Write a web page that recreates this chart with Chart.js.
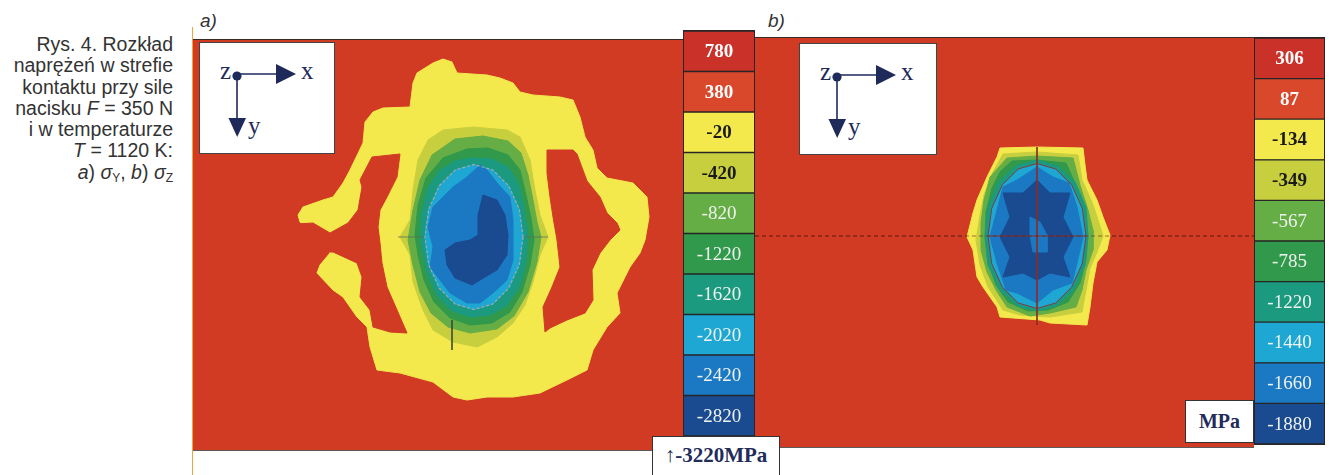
<!DOCTYPE html>
<html><head><meta charset="utf-8">
<script src="https://cdn.jsdelivr.net/npm/chart.js@4.4.1/dist/chart.umd.min.js"></script>
<style>
html,body{margin:0;padding:0;background:#fff;}
#page{position:relative;width:1329px;height:475px;overflow:hidden;font-family:"Liberation Sans",Arial,sans-serif;}
.abs{position:absolute;}
#caption{left:0;top:34px;width:173px;text-align:right;font-size:19.5px;line-height:21.3px;color:#333;white-space:nowrap;}
#caption sub{font-size:12px;vertical-align:-3px;line-height:0;}
.plabel{font-style:italic;font-size:19px;line-height:19px;color:#333;}
#orange{left:192px;top:27px;width:1px;height:448px;background:#f2a33a;}
.panel{border-top:1px solid #3a2a26;border-bottom:1px solid #5a5a5a;background:#d13b24;}
.cbar{border:1px solid #262626;box-sizing:border-box;background:#262626;}
.axbox{background:#fff;border:1.5px solid #444;box-sizing:border-box;}
.unit{background:#fff;border:1.5px solid #333;box-sizing:border-box;font-family:"Liberation Serif","Times New Roman",serif;font-weight:bold;color:#232b5a;text-align:center;}
canvas{display:block;}
</style></head>
<body>
<div id="page">
  <div id="caption" class="abs">Rys. 4. Rozkład<br>naprężeń w strefie<br>kontaktu przy sile<br>nacisku <i>F</i> = 350 N<br>i w temperaturze<br><i>T</i> = 1120 K:<br><i>a</i>) <i>σ</i><sub>Y</sub>, <i>b</i>) <i>σ</i><sub>Z</sub></div>
  <div id="orange" class="abs"></div>
  <div class="abs plabel" style="left:200px;top:11px;">a)</div>
  <div class="abs plabel" style="left:768px;top:11px;">b)</div>

  <div class="abs panel" style="left:193px;top:39px;width:490px;height:410px;"><canvas id="panelA" width="490" height="410"></canvas></div>
  <div class="abs cbar" style="left:683px;top:30px;width:72px;height:407px;"><canvas id="barA" width="70" height="405"></canvas></div>
  <div class="abs panel" style="left:755px;top:37px;width:499px;height:409px;"><canvas id="panelB" width="499" height="409"></canvas></div>
  <div class="abs cbar" style="left:1254px;top:37px;width:71px;height:408px;"><canvas id="barB" width="69" height="406"></canvas></div>

  <div class="abs axbox" style="left:199px;top:42px;width:136px;height:112px;">
    <svg width="134" height="110" style="position:absolute;left:0;top:0">
      <line x1="37" y1="31" x2="80" y2="31" stroke="#1d2a5a" stroke-width="1.6"/>
      <polygon points="76,21 96,31 76,41" fill="#1d2a5a"/>
      <line x1="37" y1="33" x2="37" y2="80" stroke="#1d2a5a" stroke-width="1.6"/>
      <polygon points="28.5,75 46,75 37.2,94" fill="#1d2a5a"/>
      <circle cx="37" cy="33" r="4.6" fill="#1d2a5a"/>
      <text x="20" y="36" font-family="Liberation Serif" font-size="25" fill="#1d2a5a">z</text>
      <text x="101" y="36" font-family="Liberation Serif" font-size="25" fill="#1d2a5a">x</text>
      <text x="48" y="91" font-family="Liberation Serif" font-size="25" fill="#1d2a5a">y</text>
    </svg>
  </div>
  <div class="abs axbox" style="left:799px;top:43px;width:138px;height:112px;">
    <svg width="136" height="110" style="position:absolute;left:0;top:0">
      <line x1="37" y1="31" x2="80" y2="31" stroke="#1d2a5a" stroke-width="1.6"/>
      <polygon points="76,21 96,31 76,41" fill="#1d2a5a"/>
      <line x1="37" y1="33" x2="37" y2="80" stroke="#1d2a5a" stroke-width="1.6"/>
      <polygon points="28.5,75 46,75 37.2,94" fill="#1d2a5a"/>
      <circle cx="37" cy="33" r="4.6" fill="#1d2a5a"/>
      <text x="20" y="36" font-family="Liberation Serif" font-size="25" fill="#1d2a5a">z</text>
      <text x="101" y="36" font-family="Liberation Serif" font-size="25" fill="#1d2a5a">x</text>
      <text x="48" y="91" font-family="Liberation Serif" font-size="25" fill="#1d2a5a">y</text>
    </svg>
  </div>
  <div class="abs unit" style="left:652px;top:436px;width:128px;height:45px;font-size:21px;line-height:36px;">↑-3220MPa</div>
  <div class="abs unit" style="left:1185px;top:400px;width:69px;height:43px;font-size:20px;line-height:40px;">MPa</div>
</div>
<script>
// ---------- colour-bar levels (MPa) ----------
const levelsA = [780, 380, -20, -420, -820, -1220, -1620, -2020, -2420, -2820];
const levelsB = [306, 87, -134, -349, -567, -785, -1220, -1440, -1660, -1880];
const levelColors = ['#c93129', '#d9482b', '#f3e84c', '#c8cf3f', '#65ad45', '#30994b', '#1b9a80', '#1da7d2', '#1b79c4', '#1a4a90'];
const levelTextColors = ['#ffffff', '#ffffff', '#1a1a1a', '#1a1a1a', '#eef2ee', '#eef2ee', '#eef2ee', '#eef2ee', '#eef2ee', '#eef2ee'];
const levelTextWeights = ['bold', 'bold', 'bold', 'bold', 'normal', 'normal', 'normal', 'normal', 'normal', 'normal'];

// ---------- contour outlines, panel a (sigma_Y), local units, y downwards ----------
const yellowA = [[-3.1,-17.8],[-2.2,-17.5],[-1.7,-16.4],[1.3,-16.2],[2.6,-15.9],[3.9,-15.4],[4.6,-14.5],[5.9,-14.2],[8.6,-14.0],[9.9,-13.7],[10.6,-12.0],[11.1,-10.0],[11.9,-8.7],[12.3,-6.9],[13.3,-5.9],[15.9,-5.4],[17.3,-4.0],[17.5,-2.0],[17.1,0.3],[16.6,1.6],[15.6,3.0],[14.3,5.6],[14.6,7.6],[13.3,9.0],[11.9,11.3],[11.3,13.3],[9.3,14.3],[6.6,15.6],[3.9,16.0],[1.3,16.0],[-0.7,16.3],[-2.1,16.0],[-4.1,14.5],[-7.4,13.6],[-9.7,13.3],[-10.4,11.0],[-10.7,9.0],[-11.7,8.0],[-13.1,6.0],[-14.1,5.3],[-15.7,3.6],[-15.4,2.8],[-14.4,1.6],[-15.4,0.3],[-17.4,-1.5],[-17.6,-2.2],[-17.1,-3.0],[-15.1,-3.7],[-14.1,-4.0],[-13.1,-5.4],[-12.4,-6.7],[-11.1,-9.4],[-10.9,-11.5],[-10.1,-12.5],[-9.1,-12.9],[-6.4,-13.0],[-6.1,-15.4],[-5.7,-16.4],[-4.1,-17.4]];
const holeLeftA = [[-19.4,-1.2],[-16.1,-1.4],[-14.4,-0.4],[-12.6,-1.4],[-11.6,-2.7],[-11.2,-5.0],[-11.4,-5.7],[-10.2,-8.0],[-7.4,-8.3],[-7.7,-6.0],[-8.7,-4.0],[-9.4,-2.7],[-9.6,-1.0],[-9.4,0.6],[-9.2,2.6],[-8.7,5.0],[-7.7,7.3],[-6.7,9.6],[-8.4,9.5],[-10.1,9.0],[-10.4,7.3],[-11.4,6.0],[-11.2,4.0],[-11.7,2.6],[-14.1,1.5],[-14.7,1.5],[-19.4,1.5]];
const holeRightA = [[7.3,-8.7],[9.9,-8.7],[10.3,-8.3],[11.3,-5.6],[12.6,-4.0],[13.3,-2.4],[14.3,-1.4],[14.6,-0.7],[13.6,0.3],[12.6,1.6],[11.8,3.3],[11.9,6.3],[11.1,7.6],[9.3,8.3],[7.6,9.1],[7.1,9.5],[6.9,7.0],[7.8,5.0],[8.6,3.0],[8.3,0.3],[7.9,-2.0],[7.6,-4.0],[7.3,-6.4]];
const bandA420 = [[-3.1,-10.7],[-0.1,-11.0],[3.3,-10.7],[4.6,-10.0],[5.6,-7.7],[6.1,-4.7],[6.6,-2.2],[7.4,0.0],[6.6,1.8],[5.9,4.5],[5.1,6.8],[3.9,8.6],[2.3,10.0],[0.3,11.0],[-2.1,10.5],[-4.1,9.3],[-5.1,7.3],[-6.1,4.5],[-6.4,1.8],[-7.4,0.0],[-6.4,-1.7],[-6.1,-4.7],[-5.6,-7.7],[-4.6,-9.7]];
const bandA820 = [[-1.9,-9.8],[0.9,-10.1],[3.4,-9.6],[4.7,-8.4],[5.4,-6.2],[5.9,-3.7],[6.3,-1.5],[6.7,0.0],[6.3,2.5],[5.4,5.5],[4.0,7.9],[2.3,9.2],[-0.4,9.6],[-2.6,9.0],[-4.3,7.6],[-5.4,5.5],[-6.1,2.8],[-6.6,0.3],[-6.1,-2.7],[-5.4,-5.7],[-4.2,-8.2]];
const bandA1220 = [[-0.7,-8.8],[1.4,-8.9],[3.4,-8.2],[4.6,-6.7],[5.2,-4.2],[5.7,-1.9],[6.0,0.3],[5.6,2.8],[4.8,5.5],[3.6,7.5],[1.8,8.6],[-0.4,8.8],[-2.4,8.1],[-4.0,6.5],[-5.0,4.3],[-5.6,1.8],[-5.9,-0.2],[-5.6,-3.2],[-4.8,-5.9],[-3.1,-7.9]];
const bandA1620 = [[-0.2,-7.9],[1.8,-7.8],[3.4,-7.0],[4.4,-5.4],[5.0,-2.9],[5.4,-0.2],[5.2,2.5],[4.5,5.1],[3.2,6.9],[1.6,7.8],[-0.4,8.0],[-2.2,7.4],[-3.7,5.9],[-4.7,3.5],[-5.3,0.8],[-5.3,-2.2],[-4.6,-4.9],[-3.4,-6.7],[-1.9,-7.6]];
const contactEllipse = [[4.9,0],[4.53,2.77],[3.46,5.13],[1.88,6.7],[0,7.25],[-1.88,6.7],[-3.46,5.13],[-4.53,2.77],[-4.9,0],[-4.53,-2.77],[-3.46,-5.13],[-1.88,-6.7],[0,-7.25],[1.88,-6.7],[3.46,-5.13],[4.53,-2.77]];
const blueA2420 = [[0.6,-7.2],[-0.7,-6.0],[-2.1,-5.0],[-3.1,-4.0],[-4.1,-3.0],[-4.6,-1.0],[-4.1,1.0],[-4.4,3.0],[-3.4,4.3],[-2.4,5.6],[-0.7,6.6],[0.6,6.6],[1.9,5.6],[3.3,4.3],[3.9,2.3],[3.9,0.3],[3.9,-1.7],[3.6,-4.0],[2.3,-5.4],[1.3,-6.7]];
const coreA2820 = [[0.9,-4.2],[2.3,-3.7],[3.1,-2.2],[3.4,-0.2],[3.3,1.8],[2.3,3.3],[0.6,4.3],[-0.2,4.8],[-1.9,4.1],[-2.7,2.8],[-2.9,1.3],[-1.9,0.6],[-0.4,0.3],[0.4,-0.2],[0.4,-2.2]];
const crossLineA = [[-7.6,0],[7.4,0]];
const tickLineA = [[-2.2,8.3],[-2.2,11.3]];

// ---------- contour outlines, panel b (sigma_Z) ----------
const yellowB = [[-3.7,-8.8],[0.0,-8.9],[4.6,-8.8],[4.8,-7.1],[5.0,-5.6],[6.0,-3.6],[6.6,-1.9],[7.3,-0.1],[7.0,1.4],[6.0,2.6],[5.6,4.7],[5.3,7.1],[5.0,8.9],[1.3,8.7],[0.3,8.4],[-3.7,8.1],[-4.0,7.1],[-5.4,5.1],[-6.0,4.1],[-6.4,1.4],[-7.0,0.1],[-6.4,-2.3],[-6.0,-3.6],[-5.0,-5.9],[-4.0,-7.9]];
const bandB349 = [[-3.4,-8.2],[0.0,-8.4],[4.1,-8.1],[4.5,-5.6],[5.5,-3.4],[6.1,-1.6],[6.6,0.0],[6.0,1.6],[5.3,3.2],[4.9,5.4],[4.5,7.6],[1.3,8.1],[-1.7,7.9],[-3.4,7.4],[-4.9,5.1],[-5.7,2.9],[-6.1,0.4],[-5.7,-2.1],[-5.3,-4.1],[-4.4,-6.4]];
const bandB567 = [[-3.0,-7.8],[0.0,-8.0],[3.6,-7.8],[4.3,-5.1],[5.1,-2.6],[5.6,-0.6],[5.6,1.4],[4.9,3.4],[4.5,5.4],[3.9,7.1],[1.3,7.7],[-0.7,8.0],[-3.0,7.1],[-4.1,5.4],[-5.0,3.6],[-5.6,1.4],[-5.6,-1.3],[-5.3,-3.6],[-4.7,-5.9]];
const bandB785 = [[-2.5,-7.5],[0.0,-7.6],[2.9,-7.3],[3.9,-5.1],[4.6,-2.6],[5.1,-0.1],[4.9,2.4],[4.3,4.7],[3.1,6.6],[1.1,7.4],[-0.9,7.5],[-2.9,6.6],[-4.1,4.9],[-4.9,2.6],[-5.2,0.2],[-5.1,-2.4],[-4.5,-4.8],[-3.7,-6.4]];
const bandB1220 = [[0,-7.6],[2.1,-7.0],[3.8,-5.4],[4.9,-2.9],[5.1,0],[4.8,2.9],[3.7,5.4],[2.0,7.0],[0,7.5],[-2.0,7.0],[-3.7,5.4],[-4.9,2.9],[-5.2,0],[-4.9,-2.9],[-3.8,-5.4],[-2.1,-7.0]];
const blueB1660 = [[0.0,-6.9],[1.6,-5.9],[3.2,-5.3],[4.0,-2.9],[4.6,0.1],[4.0,2.7],[3.5,4.7],[1.6,5.4],[0.0,6.7],[-2.0,5.7],[-3.1,5.4],[-4.0,2.7],[-4.7,0.1],[-4.0,-2.6],[-3.4,-4.9],[-2.0,-5.6]];
const coreB1880 = [[0.0,-5.6],[1.3,-4.3],[3.3,-4.3],[2.6,-1.9],[3.6,0.1],[2.6,2.1],[3.3,4.1],[1.3,3.7],[0.0,4.4],[-1.4,3.7],[-3.4,4.1],[-2.7,2.1],[-3.7,0.1],[-2.7,-1.9],[-3.4,-4.3],[-1.4,-4.3]];
const centerB1660 = [[-0.7,-1.9],[0.3,-1.4],[1.0,-0.1],[1.0,1.6],[-0.4,1.6],[-0.7,-0.1]];
const sectionLineB = [[-28.2,0],[21.7,0]];
const minorAxisB = [[-4.9,0],[4.9,0]];
const majorAxisB = [[0,-8.9],[0,8.9]];

// ---------- helpers building Chart.js datasets from the arrays ----------
const RED = '#d13b24';
function pts(arr, close) {
  const d = arr.map(p => ({x: p[0], y: p[1]}));
  if (close) d.push({x: arr[0][0], y: arr[0][1]});
  return d;
}
function area(arr, color) {
  return {data: pts(arr, true), backgroundColor: color, borderColor: color, borderWidth: 1, fill: 'shape', pointRadius: 0, tension: 0};
}
function stroke(arr, color, width, dash, close) {
  return {data: pts(arr, close), borderColor: color, backgroundColor: color, borderWidth: width, borderDash: dash || [], fill: false, pointRadius: 0, tension: 0};
}
function layered(list) {
  return list.map((d, i) => Object.assign(d, {order: list.length - i}));
}
function contourChart(id, datasets, xr, yr) {
  return new Chart(document.getElementById(id), {
    type: 'line',
    data: {datasets: layered(datasets)},
    options: {
      responsive: false, animation: false, events: [],
      layout: {padding: 0},
      scales: {
        x: {type: 'linear', display: false, min: xr[0], max: xr[1]},
        y: {type: 'linear', display: false, reverse: true, min: yr[0], max: yr[1]}
      },
      plugins: {legend: {display: false}, tooltip: {enabled: false}, filler: {propagate: false}}
    }
  });
}

const cellLabels = {
  id: 'cellLabels',
  afterDatasetsDraw(chart) {
    const {ctx, chartArea} = chart;
    const meta = chart.getDatasetMeta(0);
    const labels = chart.data.labels;
    ctx.save();
    ctx.textAlign = 'center';
    ctx.textBaseline = 'middle';
    meta.data.forEach((bar, i) => {
      ctx.font = levelTextWeights[i] + ' 19px "Liberation Serif", "Times New Roman", serif';
      ctx.fillStyle = levelTextColors[i];
      ctx.fillText(labels[i], (chartArea.left + chartArea.right) / 2, bar.y + 1);
    });
    ctx.restore();
  }
};
function colourBar(id, levels) {
  return new Chart(document.getElementById(id), {
    type: 'bar',
    data: {
      labels: levels.map(String),
      datasets: [{
        data: levels, base: -100000,
        backgroundColor: levelColors, borderColor: '#262626',
        borderWidth: {top: 1, bottom: 1, left: 0, right: 0}, borderSkipped: false,
        categoryPercentage: 1, barPercentage: 1
      }]
    },
    options: {
      indexAxis: 'y', responsive: false, animation: false, events: [],
      layout: {padding: 0},
      scales: {x: {display: false, min: -5000, max: -4000}, y: {display: false}},
      plugins: {legend: {display: false}, tooltip: {enabled: false}}
    },
    plugins: [cellLabels]
  });
}

contourChart('panelA', [
  area(yellowA, levelColors[2]),
  area(holeLeftA, RED),
  area(holeRightA, RED),
  area(bandA420, levelColors[3]),
  area(bandA820, levelColors[4]),
  area(bandA1220, levelColors[5]),
  area(bandA1620, levelColors[6]),
  stroke(crossLineA, 'rgba(90,110,90,0.75)', 1),
  stroke(tickLineA, 'rgba(60,70,60,0.8)', 1),
  area(contactEllipse, levelColors[7]),
  area(blueA2420, levelColors[8]),
  area(coreA2820, levelColors[9]),
  stroke(contactEllipse, 'rgba(170,170,170,0.95)', 1.2, [3, 2], true)
], [-28.1, 20.9], [-19.7, 21.3]);

contourChart('panelB', [
  stroke(sectionLineB, 'rgba(110,30,20,0.85)', 1, [4, 3]),
  area(yellowB, levelColors[2]),
  area(bandB349, levelColors[3]),
  area(bandB567, levelColors[4]),
  area(bandB785, levelColors[5]),
  area(bandB1220, levelColors[6]),
  area(contactEllipse, levelColors[7]),
  area(blueB1660, levelColors[8]),
  area(coreB1880, levelColors[9]),
  area(centerB1660, levelColors[8]),
  stroke(contactEllipse, 'rgba(140,45,35,0.9)', 1, [], true),
  stroke(minorAxisB, 'rgba(140,45,35,0.9)', 1),
  stroke(majorAxisB, 'rgba(140,45,35,0.9)', 1),
  stroke(sectionLineB, 'rgba(110,30,20,0.6)', 1, [4, 3])
], [-28.2, 21.7], [-19.8, 21.1]);

colourBar('barA', levelsA);
colourBar('barB', levelsB);
</script>
</body></html>
